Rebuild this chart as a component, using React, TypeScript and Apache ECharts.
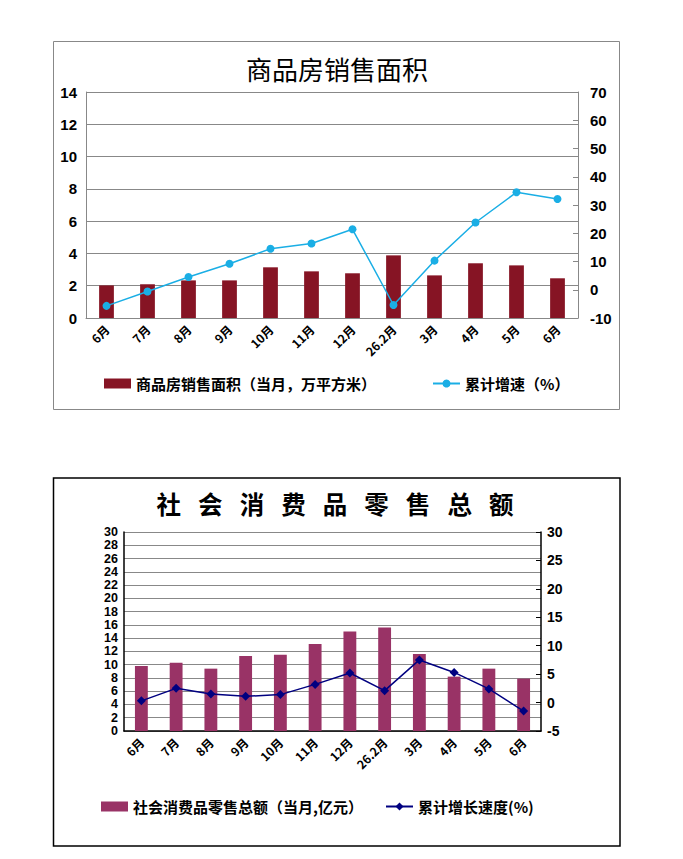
import React, { useEffect, useRef } from "react";
import * as echarts from "echarts";

const categories = ["6月", "7月", "8月", "9月", "10月", "11月", "12月", "26.2月", "3月", "4月", "5月", "6月"];
const houseArea = [2.02, 2.09, 2.33, 2.33, 3.14, 2.89, 2.77, 3.88, 2.64, 3.39, 3.26, 2.46];
const houseGrowth = [-5.7, -0.6, 4.5, 9.2, 14.5, 16.4, 21.4, -5.4, 10.3, 23.8, 34.5, 32.1];
const retailSales = [9.8, 10.3, 9.4, 11.3, 11.5, 13.1, 15.0, 15.6, 11.6, 8.2, 9.4, 7.9];
const retailGrowth = [0.3, 2.5, 1.5, 1.1, 1.4, 3.2, 5.2, 2.1, 7.5, 5.3, 2.4, -1.5];

const houseTitle = "商品房销售面积";
const retailTitle = "社  会  消  费  品  零  售  总  额";
const houseBarName = "商品房销售面积（当月，万平方米）";
const houseLineName = "累计增速（%）";
const retailBarName = "社会消费品零售总额（当月,亿元）";
const retailLineName = "累计增长速度(%)";

const CJK = "'Noto Sans CJK SC', sans-serif";
const NUM = "'Liberation Sans', 'Noto Sans CJK SC', sans-serif";
const SPACED = "'DejaVu Sans', 'Noto Sans CJK SC', sans-serif";

export default function App() {
  const ref = useRef<HTMLDivElement>(null);
  useEffect(() => {
    if (!ref.current) return;
    const chart = echarts.init(ref.current, undefined, { renderer: "svg" });
    const legendText = { fontFamily: CJK, fontWeight: "bold", fontSize: 15, color: "#000" };
    const xLabel = { rotate: 45, interval: 0, fontFamily: CJK, fontWeight: "bold", fontSize: 12, color: "#000", margin: 9 };
    const option: any = {
      animation: false,
      backgroundColor: "#fff",
      graphic: [
        { type: "rect", shape: { x: 53.5, y: 41.5, width: 566, height: 368 }, style: { fill: "none", stroke: "#888", lineWidth: 1 } },
        { type: "rect", shape: { x: 53.5, y: 478, width: 566.5, height: 368 }, style: { fill: "none", stroke: "#000", lineWidth: 1.5 } },
        { type: "text", x: 337, y: 68, style: { text: houseTitle, fontFamily: CJK, fontSize: 26, fontWeight: "normal", fill: "#000", align: "center", verticalAlign: "middle" } },
        { type: "text", x: 335, y: 505, style: { text: retailTitle, fontFamily: SPACED, fontSize: 24.5, fontWeight: "bold", fill: "#000", align: "center", verticalAlign: "middle" } },
      ],
      legend: [
        { left: 104, top: 376, padding: 0, itemWidth: 27, itemHeight: 10, data: [{ name: houseBarName, icon: "rect" }], textStyle: legendText },
        { left: 432, top: 376, padding: 0, itemWidth: 27, itemHeight: 10, data: [houseLineName], textStyle: legendText },
        { left: 101, top: 799, padding: 0, itemWidth: 27, itemHeight: 10, data: [{ name: retailBarName, icon: "rect" }], textStyle: legendText },
        { left: 385, top: 799, padding: 0, itemWidth: 27, itemHeight: 10, data: [retailLineName], textStyle: legendText },
      ],
      grid: [
        { left: 86, top: 92, width: 492, height: 226 },
        { left: 124, top: 532, width: 417, height: 199 },
      ],
      xAxis: [
        {
          gridIndex: 0, type: "category", data: categories,
          axisLine: { lineStyle: { color: "#888", width: 1 } },
          axisTick: { inside: true, length: 4, lineStyle: { color: "#888" } },
          axisLabel: xLabel,
        },
        {
          gridIndex: 1, type: "category", data: categories,
          axisLine: { lineStyle: { color: "#000", width: 1.5 } },
          axisTick: { inside: true, length: 4, lineStyle: { color: "#000" } },
          axisLabel: xLabel,
        },
      ],
      yAxis: [
        {
          gridIndex: 0, type: "value", min: 0, max: 14, interval: 2,
          axisLine: { show: true, lineStyle: { color: "#888" } },
          axisTick: { show: false },
          splitLine: { lineStyle: { color: "#888" } },
          axisLabel: { fontFamily: NUM, fontWeight: "bold", fontSize: 15, color: "#000", margin: 9 },
        },
        {
          gridIndex: 0, type: "value", position: "right", min: -10, max: 70, interval: 10,
          axisLine: { show: true, lineStyle: { color: "#888" } },
          axisTick: { show: true, inside: true, length: 5, lineStyle: { color: "#888" } },
          splitLine: { show: false },
          axisLabel: { fontFamily: NUM, fontWeight: "bold", fontSize: 15, color: "#000", margin: 12 },
        },
        {
          gridIndex: 1, type: "value", min: 0, max: 30, interval: 2,
          axisLine: { show: true, lineStyle: { color: "#000", width: 1.5 } },
          axisTick: { show: false },
          splitLine: { lineStyle: { color: "#888" } },
          axisLabel: { fontFamily: NUM, fontWeight: "bold", fontSize: 12.5, color: "#000", margin: 6 },
        },
        {
          gridIndex: 1, type: "value", position: "right", min: -5, max: 30, interval: 5,
          axisLine: { show: true, lineStyle: { color: "#000", width: 1.5 } },
          axisTick: { show: true, inside: true, length: 5, lineStyle: { color: "#000" } },
          splitLine: { show: false },
          axisLabel: { fontFamily: NUM, fontWeight: "bold", fontSize: 14, color: "#000", margin: 6 },
        },
      ],
      series: [
        { name: houseBarName, type: "bar", xAxisIndex: 0, yAxisIndex: 0, data: houseArea, barWidth: "36%", itemStyle: { color: "#861424" } },
        {
          name: houseLineName, type: "line", xAxisIndex: 0, yAxisIndex: 1, data: houseGrowth,
          symbol: "circle", symbolSize: 8, itemStyle: { color: "#1AAEE5" }, lineStyle: { color: "#1AAEE5", width: 1.5 },
        },
        { name: retailBarName, type: "bar", xAxisIndex: 1, yAxisIndex: 2, data: retailSales, barWidth: "37%", itemStyle: { color: "#993366" } },
        {
          name: retailLineName, type: "line", xAxisIndex: 1, yAxisIndex: 3, data: retailGrowth,
          symbol: "diamond", symbolSize: 9, itemStyle: { color: "#000080" }, lineStyle: { color: "#000080", width: 1.5 },
        },
      ],
    };
    chart.setOption(option);
    return () => chart.dispose();
  }, []);
  return <div ref={ref} style={{ position: "absolute", left: 0, top: 0, width: 683, height: 859 }} />;
}
